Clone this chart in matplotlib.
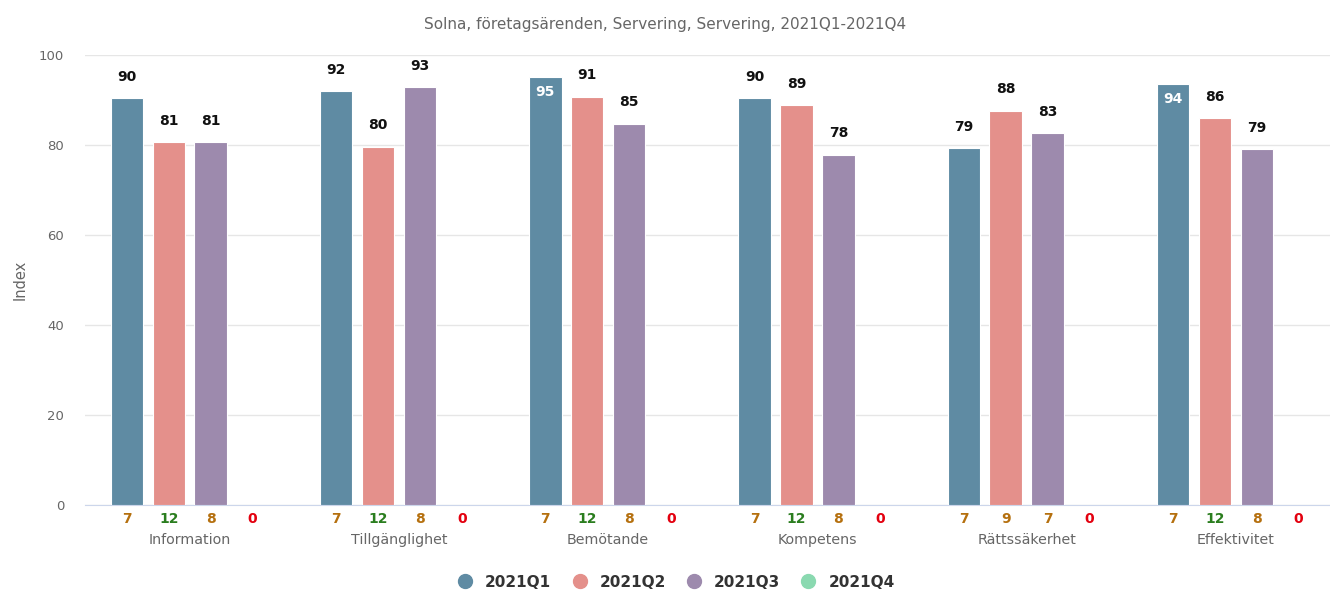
import matplotlib.pyplot as plt
import matplotlib.transforms as mtransforms
from matplotlib.lines import Line2D

# Data
categories = ["Information", "Tillgänglighet", "Bemötande", "Kompetens", "Rättssäkerhet", "Effektivitet"]
series_names = ["2021Q1", "2021Q2", "2021Q3", "2021Q4"]
q1 = [90.4, 92.0, 95.1, 90.4, 79.3, 93.6]
q2 = [80.6, 79.6, 90.7, 88.9, 87.6, 86.0]
q3 = [80.6, 92.9, 84.7, 77.8, 82.6, 79.1]
q4 = [0, 0, 0, 0, 0, 0]
counts_q1 = [7, 7, 7, 7, 7, 7]
counts_q2 = [12, 12, 12, 12, 9, 12]
counts_q3 = [8, 8, 8, 8, 7, 8]
counts_q4 = [0, 0, 0, 0, 0, 0]

colors = ["#5f8ba3", "#e4908b", "#9d8aad", "#8ad9b0"]
values = [q1, q2, q3, q4]
counts = [counts_q1, counts_q2, counts_q3, counts_q4]
offsets = [-0.3, -0.1, 0.1, 0.3]
bar_w = 0.155


def count_color(n):
    if n == 0:
        return "#e3000f"
    if n < 10:
        return "#b5700f"
    return "#2a7d1e"


fig = plt.figure(figsize=(13.3, 5.9), dpi=100)
ax = fig.add_axes([0.064, 0.1441, 0.936, 0.7627])

x = list(range(len(categories)))
for s in range(4):
    xs = [i + offsets[s] for i in x]
    ax.bar(xs, values[s], width=bar_w, color=colors[s], edgecolor="white", linewidth=0.8, zorder=3)
    if s == 3:
        continue
    for xi, v in zip(xs, values[s]):
        label = f"{round(v):d}"
        if v > 93.5:
            ax.text(xi, v - 1.8, label, ha="center", va="top", fontsize=10,
                    fontweight="bold", color="white", zorder=4)
        else:
            ax.text(xi, v + 3.2, label, ha="center", va="bottom", fontsize=10,
                    fontweight="bold", color="#111111", zorder=4)

# counts under the axis
trans = mtransforms.blended_transform_factory(ax.transData, ax.transAxes)
for s in range(4):
    for i in x:
        n = counts[s][i]
        ax.text(i + offsets[s], -0.032, str(n), transform=trans, ha="center", va="center",
                fontsize=10, fontweight="bold", color=count_color(n))

ax.set_xlim(-0.5, 5.45)
ax.set_ylim(0, 100)
ax.set_yticks([0, 20, 40, 60, 80, 100])
ax.set_xticks(x)
ax.set_xticklabels(categories, fontsize=10.3, color="#666666")
ax.tick_params(axis="x", length=0, pad=20)
ax.tick_params(axis="y", length=0, labelsize=9.5, labelcolor="#666666", pad=15)
ax.grid(axis="y", color="#e6e6e6", linewidth=1, zorder=0)
for sp in ["top", "right", "left"]:
    ax.spines[sp].set_visible(False)
ax.spines["bottom"].set_color("#ccd6eb")
ax.set_ylabel("Index", fontsize=10.5, color="#666666", labelpad=8)

fig.suptitle("Solna, företagsärenden, Servering, Servering, 2021Q1-2021Q4",
             fontsize=11, color="#666666", y=0.972)

handles = [Line2D([0], [0], marker="o", linestyle="", markersize=10,
                  markerfacecolor=c, markeredgecolor=c) for c in colors]
leg = fig.legend(handles, series_names, loc="center", bbox_to_anchor=(0.5055, 0.013),
                 ncol=4, frameon=False, handletextpad=0.3, columnspacing=0.85,
                 prop={"weight": "bold", "size": 11})
for t in leg.get_texts():
    t.set_color("#333333")

fig.savefig("out.png", dpi=100)
